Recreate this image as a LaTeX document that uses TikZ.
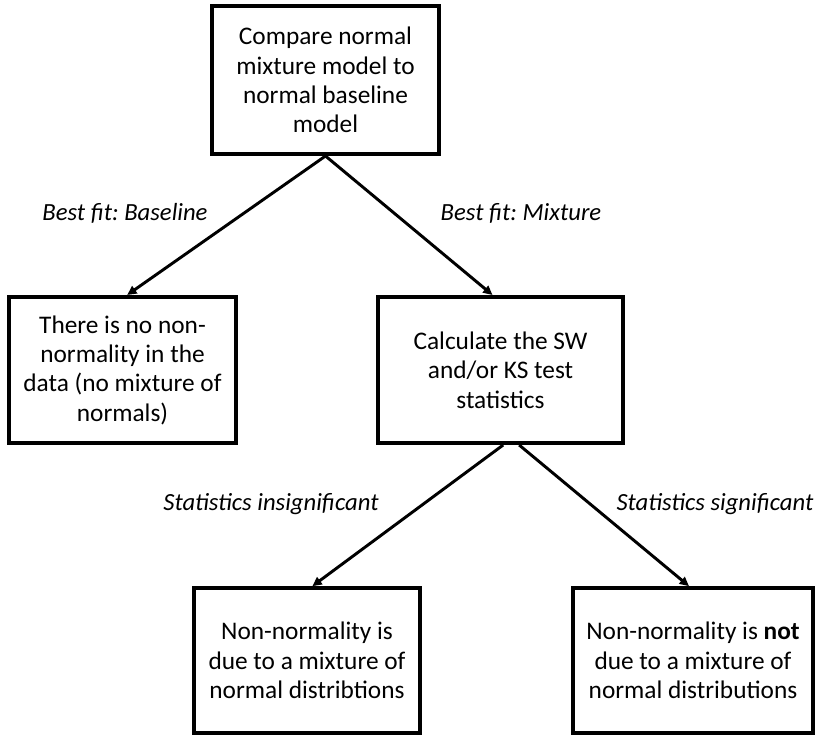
\documentclass[tikz,border=0pt]{standalone}
\usepackage{fontspec}
\setmainfont{Carlito}
\frenchspacing
\usetikzlibrary{arrows.meta}
\begin{document}
\begin{tikzpicture}[x=0.75pt,y=-0.75pt,
	box/.style={draw,line width=3pt,align=center,font=\fontsize{19}{22}\selectfont,inner sep=0pt},
	lbl/.style={font=\fontsize{18.5}{20}\selectfont\itshape,inner sep=0pt},
	arr/.style={line width=2.2pt,-{Triangle[length=7pt,width=6.5pt]}}]
	   \useasboundingbox (0,0) rectangle (817,735);
	   \node [box,minimum width=170pt,minimum height=111pt] (cmp) at (325.5,80) {Compare normal\\mixture model to\\normal baseline\\model};
	   \node [box,minimum width=170pt,minimum height=109.5pt] (nomix) at (122.5,370) {There is no non-\\normality in the\\data (no mixture of\\normals)};
	   \node [box,minimum width=183.5pt,minimum height=109.5pt] (calc) at (500.5,370) {Calculate the SW\\and/or KS test\\statistics};
	   \node [box,minimum width=169.5pt,minimum height=108.5pt] (mixyes) at (307,660.5) {Non-normality is\\due to a mixture of\\normal distribtions};
	   \node [box,minimum width=180pt,minimum height=108.5pt] (mixno) at (693,660.5) {Non-normality is \textbf{not}\\due to a mixture of\\normal distributions};
	   \node [lbl] (fitbase) at (125,213) {Best fit: Baseline};
	   \node [lbl] (fitmix) at (521,213) {Best fit: Mixture};
	   \node [lbl] (insig) at (271,504) {Statistics insignificant};
	   \node [lbl] (sig) at (715,504) {Statistics significant};
	   \draw [arr] (cmp.south) -- ([xshift=3.5pt]nomix.north);
	   \draw [arr] (cmp.south) -- ([xshift=-6pt]calc.north);
	   \draw [arr] ([xshift=2pt]calc.south) -- ([xshift=4pt]mixyes.north);
	   \draw [arr] ([xshift=14pt]calc.south) -- ([xshift=-3pt]mixno.north);
\end{tikzpicture}
\end{document}
